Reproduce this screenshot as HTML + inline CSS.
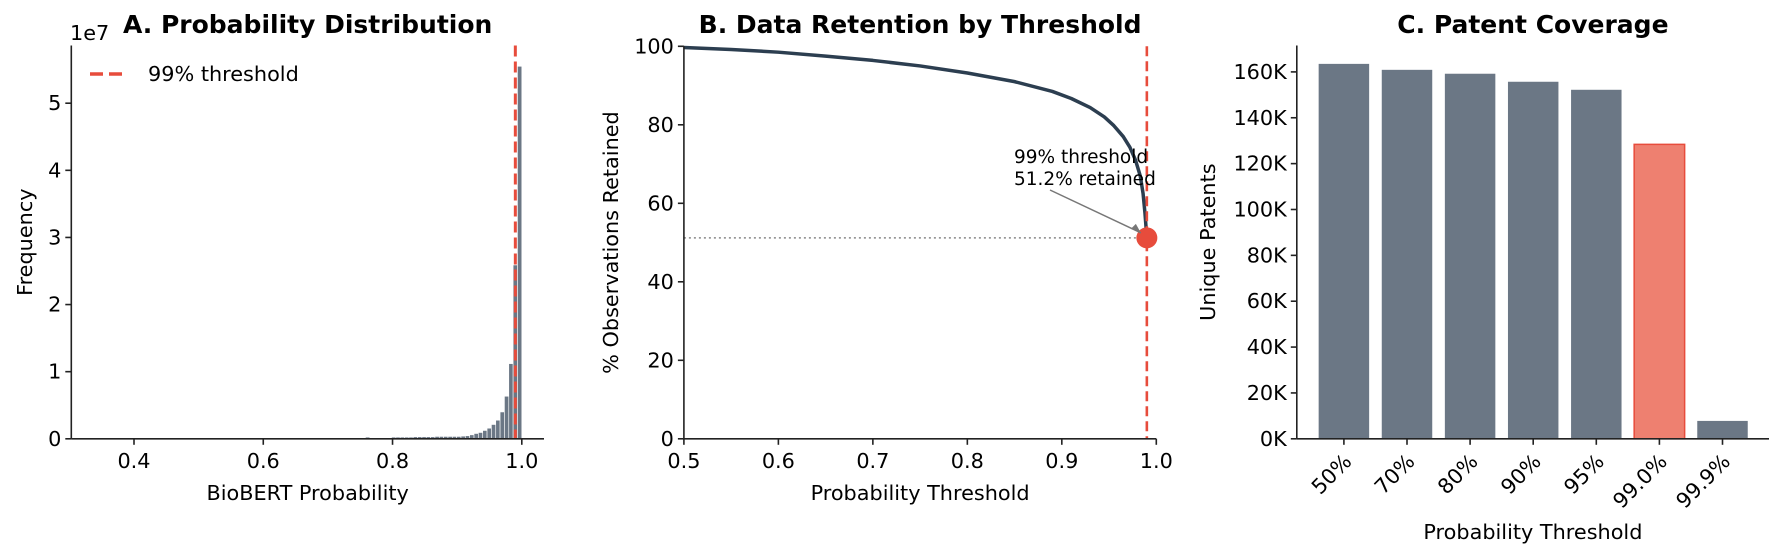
<!DOCTYPE html>
<html><head><meta charset="utf-8"><style>
html,body{margin:0;padding:0;background:#fff;}
svg{display:block;font-family:"DejaVu Sans","Liberation Sans",sans-serif;}
</style></head><body>
<svg id="fig" width="1783" height="558" viewBox="0 0 1783 558">
<g id="pa"></g>
<g id="pb"></g>
<g id="pc"></g>
</svg>
<script>
// Panel A data (counts in millions, 100 bins from 0.328 to 1.0)
const histBinStart = 0.328;
const histBinWidth = 0.00672;
const histCounts = [
0,0,0,0,0,0,0,0,0,0, 0,0,0,0,0,0,0,0,0,0,
0,0,0,0,0,0,0,0,0,0, 0,0,0,0,0,0,0,0,0,0,
0,0,0,0,0,0,0,0,0,0, 0,0.05,0.05,0.05,0.05,0.05,0.05,0.05,0.05,0.05,
0.05,0.05,0.05,0.05,0.25,0.1,0.1,0.1,0.12,0.15, 0.25,0.25,0.25,0.25,0.25,0.3,0.3,0.3,0.3,0.3,
0.35,0.35,0.35,0.35,0.35,0.35,0.4,0.45,0.59,0.79, 0.94,1.24,1.58,2.13,2.77,4.0,6.34,11.2,25.9,55.5];
const histXTicks = [0.4,0.6,0.8,1.0];
const histYTicks = [0,1,2,3,4,5];
const thresholdA = 0.99;
// Panel B data
const bThresholds = [0.5,0.55,0.6,0.65,0.7,0.75,0.8,0.85,0.89,0.91,0.93,0.945,0.955,0.965,0.972,0.978,0.983,0.986,0.988,0.99];
const bRetained = [99.7,99.2,98.5,97.5,96.4,95,93.2,91.0,88.5,86.7,84.4,82.0,79.8,77.0,74.3,71.0,67.0,62.5,57.5,51.2];
const bXTicks = [0.5,0.6,0.7,0.8,0.9,1.0];
const bYTicks = [0,20,40,60,80,100];
const bPoint = [0.99, 51.2];
// Panel C data (thousands)
const cCategories = ["50%","70%","80%","90%","95%","99.0%","99.9%"];
const cValues = [163.5,160.9,159.2,155.7,152.2,128.4,7.8];
const cYTicks = [0,20,40,60,80,100,120,140,160];
const cHighlight = 5;

const NS="http://www.w3.org/2000/svg";
function mk(parent,tag,attrs,text){const e=document.createElementNS(NS,tag);for(const k in attrs)e.setAttribute(k,attrs[k]);if(text!==undefined)e.textContent=text;parent.appendChild(e);return e;}
const TXT="#000", AX="#222", FS=20.8, TFS=25;

// ---------- Panel A ----------
(function(){
const g=document.getElementById('pa');
const L=71.3,R=544,T=45.5,B=438.8;
const x=v=>134+(v-0.4)*(521.8-134)/0.6;
const y=v=>B-v*(B-103.2)/50;
for(let i=0;i<histCounts.length;i++){
  const x0=x(histBinStart+i*histBinWidth), x1=x(histBinStart+(i+1)*histBinWidth);
  const h=B-y(histCounts[i]);
  const r=mk(g,'rect',{x:x0,y:B-h,width:Math.max(0,x1-x0),height:h,fill:'#6b7785',stroke:'#fff','stroke-width':0.6});
  
  
}
const tl=mk(g,'line',{x1:x(thresholdA),x2:x(thresholdA),y1:T,y2:B,stroke:'#e74c3c','stroke-width':3,'stroke-dasharray':'11,5'});


mk(g,'line',{x1:L,x2:L,y1:T,y2:B,stroke:AX,'stroke-width':1.6,});
mk(g,'line',{x1:L,x2:R,y1:B,y2:B,stroke:AX,'stroke-width':1.6,});
histXTicks.forEach(v=>{
  const t=mk(g,'line',{x1:x(v),x2:x(v),y1:B,y2:B+6,stroke:AX,'stroke-width':1.6});
  
  const l=mk(g,'text',{x:x(v),y:B+29,'text-anchor':'middle','font-size':FS,fill:TXT},v.toFixed(1));
  
});
histYTicks.forEach(v=>{
  const t=mk(g,'line',{x1:L-6,x2:L,y1:y(v*10),y2:y(v*10),stroke:AX,'stroke-width':1.6});
  
  const l=mk(g,'text',{x:L-10,y:y(v*10)+7,'text-anchor':'end','font-size':FS,fill:TXT},String(v));
  
});
mk(g,'text',{x:70,y:40,'font-size':FS,fill:TXT,},'1e7');
mk(g,'text',{x:(L+R)/2,y:33,'text-anchor':'middle','font-size':TFS,'font-weight':'bold',fill:TXT,},'A. Probability Distribution');
mk(g,'text',{x:(L+R)/2,y:500,'text-anchor':'middle','font-size':FS,fill:TXT,},'BioBERT Probability');
mk(g,'text',{x:32,y:(T+B)/2,'text-anchor':'middle','font-size':FS,fill:TXT,transform:`rotate(-90 32 ${(T+B)/2})`,},'Frequency');
mk(g,'line',{x1:90,x2:128,y1:74,y2:74,stroke:'#e74c3c','stroke-width':3.5,'stroke-dasharray':'13,6',});
mk(g,'text',{x:148,y:81,'font-size':FS,fill:TXT,},'99% threshold');
})();

// ---------- Panel B ----------
(function(){
const g=document.getElementById('pb');
const L=683.9,R=1156.3,T=46.3,B=438.8;
const x=v=>L+(v-0.5)*(R-L)/0.5;
const y=v=>B-v*(B-T)/100;
mk(g,'line',{x1:L,x2:x(bPoint[0]),y1:y(bPoint[1]),y2:y(bPoint[1]),stroke:'#888','stroke-width':1.5,'stroke-dasharray':'2,3',});
let d='';
bThresholds.forEach((t,i)=>{d+=(i?'L':'M')+x(t).toFixed(2)+','+y(bRetained[i]).toFixed(2);});
const p=mk(g,'path',{d:d,fill:'none',stroke:'#2c3e50','stroke-width':3.5,'stroke-linejoin':'round'});


const tl=mk(g,'line',{x1:x(bPoint[0]),x2:x(bPoint[0]),y1:T,y2:B,stroke:'#e74c3c','stroke-width':2.6,'stroke-dasharray':'10,5'});


const c=mk(g,'circle',{cx:x(bPoint[0]),cy:y(bPoint[1]),r:10.5,fill:'#e74c3c'});


const ax=x(bPoint[0])-6, ay=y(bPoint[1])-5;
mk(g,'line',{x1:1050,y1:190,x2:ax,y2:ay,stroke:'#777','stroke-width':1.5,});
mk(g,'path',{d:`M${ax},${ay} l-5,-9 l-5,5 z`,fill:'#777',});
mk(g,'text',{x:1014,y:163,'font-size':18.5,fill:TXT,},'99% threshold');
mk(g,'text',{x:1014,y:185,'font-size':18.5,fill:TXT,},bPoint[1].toFixed(1)+'% retained');
mk(g,'line',{x1:L,x2:L,y1:T,y2:B,stroke:AX,'stroke-width':1.6,});
mk(g,'line',{x1:L,x2:R,y1:B,y2:B,stroke:AX,'stroke-width':1.6,});
bXTicks.forEach(v=>{
  const t=mk(g,'line',{x1:x(v),x2:x(v),y1:B,y2:B+6,stroke:AX,'stroke-width':1.6});
  
  const l=mk(g,'text',{x:x(v),y:B+29,'text-anchor':'middle','font-size':FS,fill:TXT},v.toFixed(1));
  
});
bYTicks.forEach(v=>{
  const t=mk(g,'line',{x1:L-6,x2:L,y1:y(v),y2:y(v),stroke:AX,'stroke-width':1.6});
  
  const l=mk(g,'text',{x:L-10,y:y(v)+7,'text-anchor':'end','font-size':FS,fill:TXT},String(v));
  
});
mk(g,'text',{x:(L+R)/2,y:33,'text-anchor':'middle','font-size':TFS,'font-weight':'bold',fill:TXT,},'B. Data Retention by Threshold');
mk(g,'text',{x:(L+R)/2,y:500,'text-anchor':'middle','font-size':FS,fill:TXT,},'Probability Threshold');
mk(g,'text',{x:618,y:(T+B)/2,'text-anchor':'middle','font-size':FS,fill:TXT,transform:`rotate(-90 618 ${(T+B)/2})`,},'% Observations Retained');
})();

// ---------- Panel C ----------
(function(){
const g=document.getElementById('pc');
const L=1296.8,R=1769,T=45.5,B=438.8;
const step=63.1, c0=1343.9;
const x=i=>c0+i*step;
const y=v=>B-v*(B-71.9)/160;
const bw=step*0.8;
cValues.forEach((v,i)=>{
  const hi=i===cHighlight;
  const r=mk(g,'rect',{x:x(i)-bw/2,y:y(v),width:bw,height:B-y(v),fill:hi?'#ee8070':'#6b7785',stroke:hi?'#e74c3c':'none','stroke-width':hi?1.5:0});
  
  
});
mk(g,'line',{x1:L,x2:L,y1:T,y2:B,stroke:AX,'stroke-width':1.6,});
mk(g,'line',{x1:L,x2:R,y1:B,y2:B,stroke:AX,'stroke-width':1.6,});
cCategories.forEach((c,i)=>{
  const t=mk(g,'line',{x1:x(i),x2:x(i),y1:B,y2:B+6,stroke:AX,'stroke-width':1.6});
  
  const px=x(i)+9, py=B+24;
  const l=mk(g,'text',{x:px,y:py,'text-anchor':'end','font-size':FS,fill:TXT,transform:`rotate(-45 ${px} ${py})`},c);
  
});
cYTicks.forEach(v=>{
  const t=mk(g,'line',{x1:L-6,x2:L,y1:y(v),y2:y(v),stroke:AX,'stroke-width':1.6});
  
  const l=mk(g,'text',{x:L-10,y:y(v)+7,'text-anchor':'end','font-size':FS,fill:TXT},v+'K');
  
});
mk(g,'text',{x:(L+R)/2,y:33,'text-anchor':'middle','font-size':TFS,'font-weight':'bold',fill:TXT,},'C. Patent Coverage');
mk(g,'text',{x:(L+R)/2,y:539,'text-anchor':'middle','font-size':FS,fill:TXT,},'Probability Threshold');
mk(g,'text',{x:1215,y:(T+B)/2,'text-anchor':'middle','font-size':FS,fill:TXT,transform:`rotate(-90 1215 ${(T+B)/2})`,},'Unique Patents');
})();
</script>
</body></html>
